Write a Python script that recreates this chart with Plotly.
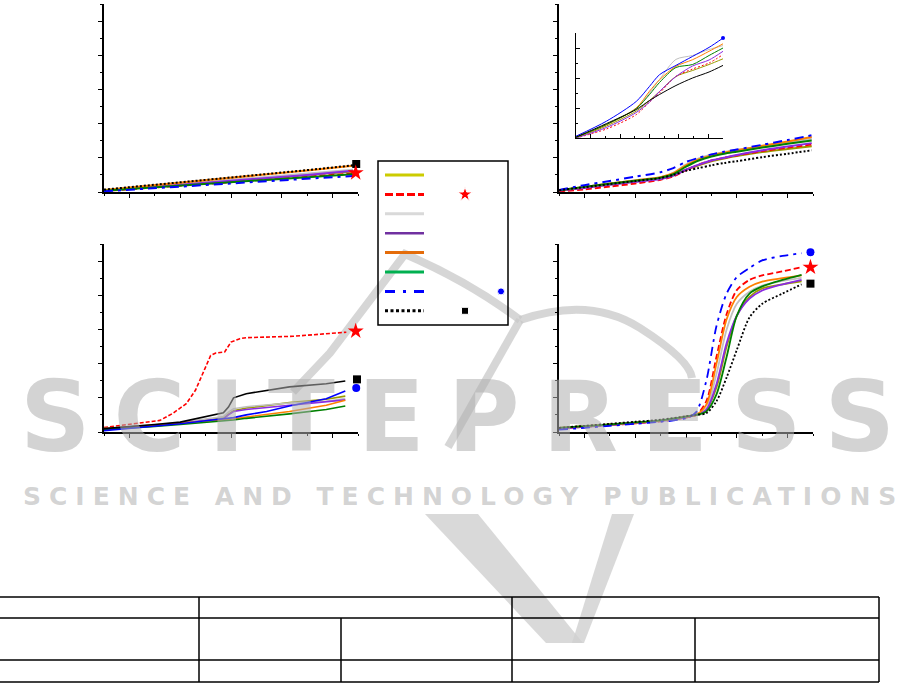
import plotly.graph_objects as go

# ---------------- data (axis units are arbitrary, no labels) -------------
# Panel 1 (top-left): nearly linear growth
p1_x = [0, 2, 4, 6, 8, 9.8]
p1_olive = [0.05, 0.16, 0.27, 0.38, 0.49, 0.60]
p1_red = [0.03, 0.13, 0.24, 0.34, 0.44, 0.54]
p1_gray = [0.05, 0.17, 0.29, 0.41, 0.53, 0.65]
p1_purple = [0.04, 0.15, 0.27, 0.39, 0.50, 0.62]
p1_orange = [0.06, 0.20, 0.35, 0.49, 0.63, 0.77]
p1_green = [0.04, 0.14, 0.24, 0.33, 0.43, 0.52]
p1_blue = [0.02, 0.11, 0.20, 0.29, 0.38, 0.47]
p1_black = [0.07, 0.21, 0.36, 0.50, 0.64, 0.78]
p1_mark_x = [9.93, 9.91, 10.3]
p1_mark_y = [0.82, 0.56, 0.56]

# Panel 2 (top-right) main curves
p2_x = [0, 1, 2, 3, 4, 4.5, 5, 5.5, 6, 6.5, 7, 8, 9, 9.95]
p2_olive = [0.04, 0.13, 0.22, 0.31, 0.40, 0.49, 0.65, 0.78, 0.90, 0.98, 1.05, 1.17, 1.26, 1.34]
p2_red = [0.02, 0.08, 0.16, 0.25, 0.36, 0.46, 0.64, 0.80, 0.92, 1.00, 1.07, 1.20, 1.30, 1.39]
p2_gray = [0.05, 0.15, 0.25, 0.34, 0.43, 0.56, 0.80, 0.98, 1.10, 1.17, 1.23, 1.34, 1.45, 1.56]
p2_purple = [0.04, 0.12, 0.21, 0.30, 0.38, 0.48, 0.65, 0.80, 0.92, 1.00, 1.08, 1.22, 1.33, 1.43]
p2_orange = [0.05, 0.15, 0.25, 0.34, 0.43, 0.55, 0.78, 0.95, 1.07, 1.15, 1.22, 1.35, 1.48, 1.61]
p2_green = [0.05, 0.15, 0.24, 0.33, 0.42, 0.52, 0.74, 0.92, 1.04, 1.12, 1.18, 1.30, 1.41, 1.51]
p2_blue = [0.06, 0.20, 0.32, 0.45, 0.58, 0.70, 0.88, 1.00, 1.10, 1.18, 1.24, 1.38, 1.52, 1.66]
p2_black = [0.05, 0.14, 0.23, 0.32, 0.41, 0.50, 0.62, 0.70, 0.78, 0.85, 0.90, 1.02, 1.12, 1.22]
p2_mark_x = [10.13, 10.09, 10.09]
p2_mark_y = [1.24, 1.46, 1.75]

# Panel 2 inset
in_x = [0, 2.07, 4.1, 5.0, 5.68, 6.8, 7.93, 9.05, 10]
in_olive = [0.00, 0.40, 0.90, 1.25, 1.55, 2.05, 2.25, 2.45, 2.64]
in_red = [0.00, 0.30, 0.78, 1.20, 1.50, 2.05, 2.30, 2.50, 2.78]
in_gray = [0.02, 0.45, 1.00, 1.50, 1.95, 2.62, 2.75, 2.95, 3.08]
in_purple = [0.00, 0.35, 0.85, 1.20, 1.55, 2.05, 2.40, 2.60, 2.89]
in_orange = [0.02, 0.44, 1.00, 1.56, 1.94, 2.39, 2.61, 2.89, 3.14]
in_green = [0.02, 0.45, 0.98, 1.45, 1.85, 2.35, 2.45, 2.75, 3.00]
in_blue = [0.06, 0.56, 1.22, 1.72, 2.11, 2.42, 2.72, 3.02, 3.33]
in_black = [0.03, 0.48, 0.95, 1.25, 1.45, 1.75, 2.00, 2.20, 2.42]
in_mark_x = [10.1, 10.1, 10.0]
in_mark_y = [2.42, 2.78, 3.33]

# Panel 3 (bottom-left)
p3_x = [0, 1, 2, 3, 4, 4.7, 4.9, 5.1, 5.6, 6.4, 7.3, 8.75, 9.5]
p3_olive = [0.09, 0.14, 0.20, 0.27, 0.35, 0.42, 0.52, 0.62, 0.70, 0.78, 0.86, 0.96, 1.05]
p3_gray = [0.10, 0.15, 0.21, 0.28, 0.37, 0.45, 0.58, 0.68, 0.74, 0.79, 0.85, 0.90, 0.98]
p3_purple = [0.08, 0.13, 0.19, 0.26, 0.33, 0.38, 0.50, 0.60, 0.66, 0.72, 0.78, 0.88, 0.94]
p3_orange = [0.10, 0.14, 0.19, 0.26, 0.32, 0.36, 0.37, 0.38, 0.44, 0.52, 0.60, 0.78, 0.93]
p3_green = [0.07, 0.11, 0.16, 0.22, 0.28, 0.33, 0.34, 0.35, 0.40, 0.46, 0.53, 0.66, 0.76]
p3_blue = [0.04, 0.10, 0.17, 0.24, 0.33, 0.38, 0.39, 0.42, 0.50, 0.60, 0.76, 0.97, 1.20]
p3_black = [0.10, 0.15, 0.22, 0.29, 0.44, 0.56, 0.73, 1.00, 1.12, 1.22, 1.32, 1.41, 1.49]
p3_red_x = [0, 1.0, 2.2, 2.7, 3.24, 3.6, 4.0, 4.2, 4.4, 4.75, 5.0, 5.35, 5.6, 7.44, 9.54]
p3_red = [0.13, 0.22, 0.34, 0.54, 0.83, 1.22, 1.90, 2.24, 2.31, 2.34, 2.63, 2.73, 2.76, 2.80, 2.92]
p3_mark_x = [9.96, 9.91, 9.93]
p3_mark_y = [1.54, 2.95, 1.29]

# Panel 4 (bottom-right): sigmoid growth
p4_x = [0, 1, 2, 3, 4, 5, 5.4, 5.8, 6.2, 6.6, 7.0, 7.5, 8.0, 8.8, 9.55]
p4_olive = [0.12, 0.17, 0.22, 0.27, 0.33, 0.45, 0.50, 0.65, 1.30, 2.50, 3.40, 3.95, 4.20, 4.32, 4.41]
p4_red = [0.10, 0.15, 0.20, 0.25, 0.31, 0.42, 0.50, 0.90, 2.20, 3.45, 4.15, 4.45, 4.58, 4.70, 4.82]
p4_gray = [0.12, 0.17, 0.22, 0.27, 0.33, 0.45, 0.50, 0.70, 1.70, 3.00, 3.75, 4.10, 4.28, 4.42, 4.51]
p4_purple = [0.10, 0.15, 0.20, 0.26, 0.32, 0.43, 0.50, 0.65, 1.40, 2.60, 3.40, 3.90, 4.14, 4.32, 4.45]
p4_orange = [0.12, 0.17, 0.22, 0.27, 0.33, 0.45, 0.50, 0.80, 2.00, 3.30, 3.95, 4.25, 4.40, 4.50, 4.58]
p4_green = [0.12, 0.17, 0.22, 0.28, 0.34, 0.45, 0.50, 0.60, 1.10, 2.20, 3.40, 4.05, 4.26, 4.45, 4.60]
p4_blue = [0.07, 0.12, 0.18, 0.24, 0.30, 0.40, 0.58, 1.50, 3.10, 4.05, 4.53, 4.80, 5.02, 5.15, 5.23]
p4_black = [0.12, 0.18, 0.24, 0.30, 0.36, 0.46, 0.50, 0.55, 0.90, 1.60, 2.40, 3.35, 3.75, 4.05, 4.32]
p4_mark_x = [9.9, 9.9, 9.9]
p4_mark_y = [4.34, 4.82, 5.26]

series_order = ["olive", "red", "gray", "purple", "orange", "green", "blue", "black"]

# ---------------- styles ----------------
chart_color = {"olive": "#9a9a00", "red": "#ff0000", "gray": "#c0c0c0", "purple": "#8a2be2",
               "orange": "#ff7f00", "green": "#008000", "blue": "#0000ff", "black": "#000000"}
legend_color = {"olive": "#cccc00", "red": "#ff0000", "gray": "#d9d9d9", "purple": "#7030a0",
                "orange": "#e46c0a", "green": "#00b050", "blue": "#0000ff", "black": "#000000"}
dash = {"olive": "solid", "red": "6px,3px", "gray": "solid", "purple": "solid", "orange": "solid",
        "green": "solid", "blue": "9px,5px,3px,5px", "black": "2px,2px"}
legend_dash = {"olive": "solid", "red": "8px,3px", "gray": "solid", "purple": "solid", "orange": "solid",
               "green": "solid", "blue": "10px,8px,3px,8px", "black": "3px,2.5px"}
mark_symbols = ["square", "star", "circle"]
mark_colors = ["#000000", "#ff0000", "#0000ff"]
mark_sizes = [8, 12, 8]

W, H = 907, 683


def px_dom_x(a, b):
    return [a / W, b / W]


def px_dom_y(top, bottom):
    return [1 - bottom / H, 1 - top / H]


fig = go.Figure()


def add_panel(xa, ya, xs_map, ys_map, width, mark_x, mark_y, dash_override=None, shape="linear",
              msizes=None):
    for name in series_order:
        d = dash[name]
        if dash_override and name in dash_override:
            d = dash_override[name]
        fig.add_trace(go.Scatter(x=xs_map[name], y=ys_map[name], mode="lines", xaxis=xa, yaxis=ya,
                                 line=dict(color=chart_color[name], width=width, dash=d, shape=shape,
                                           smoothing=0.8),
                                 showlegend=False, hoverinfo="skip"))
    fig.add_trace(go.Scatter(x=mark_x, y=mark_y, mode="markers", xaxis=xa, yaxis=ya, cliponaxis=False,
                             marker=dict(symbol=mark_symbols, color=mark_colors, opacity=1,
                                         size=msizes or mark_sizes, line=dict(width=0)),
                             showlegend=False, hoverinfo="skip"))


p1_y = dict(olive=p1_olive, red=p1_red, gray=p1_gray, purple=p1_purple, orange=p1_orange,
            green=p1_green, blue=p1_blue, black=p1_black)
add_panel("x", "y", {k: p1_x for k in series_order}, p1_y, 2, p1_mark_x, p1_mark_y)

p2_y = dict(olive=p2_olive, red=p2_red, gray=p2_gray, purple=p2_purple, orange=p2_orange,
            green=p2_green, blue=p2_blue, black=p2_black)
add_panel("x2", "y2", {k: p2_x for k in series_order}, p2_y, 2, p2_mark_x, p2_mark_y, shape="spline")

p3_y = dict(olive=p3_olive, red=p3_red, gray=p3_gray, purple=p3_purple, orange=p3_orange,
            green=p3_green, blue=p3_blue, black=p3_black)
p3_xs = {k: p3_x for k in series_order}
p3_xs["red"] = p3_red_x
add_panel("x3", "y3", p3_xs, p3_y, 1.6, p3_mark_x, p3_mark_y,
          dash_override={"blue": "solid", "black": "solid", "red": "4px,2px"})

p4_y = dict(olive=p4_olive, red=p4_red, gray=p4_gray, purple=p4_purple, orange=p4_orange,
            green=p4_green, blue=p4_blue, black=p4_black)
add_panel("x4", "y4", {k: p4_x for k in series_order}, p4_y, 1.8, p4_mark_x, p4_mark_y, shape="spline")

in_y = dict(olive=in_olive, red=in_red, gray=in_gray, purple=in_purple, orange=in_orange,
            green=in_green, blue=in_blue, black=in_black)
add_panel("x5", "y5", {k: in_x for k in series_order}, in_y, 1, in_mark_x, in_mark_y,
          dash_override={"blue": "solid", "black": "solid", "red": "2px,2px"}, shape="spline",
          msizes=[4, 6, 4])

# ---------------- legend drawn in its own (hidden) axes, 1 unit = 1 px ----------------
row_gap = 19.4
row0 = 14
for i, name in enumerate(series_order):
    fig.add_trace(go.Scatter(x=[7, 46], y=[row0 + i * row_gap] * 2, mode="lines", xaxis="x6", yaxis="y6",
                             line=dict(color=legend_color[name], width=3 if name != "purple" else 2.5,
                                       dash=legend_dash[name]),
                             showlegend=False, hoverinfo="skip"))
leg_mark_rows = [7, 1, 6]
leg_mark_x = [87, 87, 123]
fig.add_trace(go.Scatter(x=leg_mark_x, y=[row0 + r * row_gap for r in leg_mark_rows], mode="markers",
                         xaxis="x6", yaxis="y6",
                         marker=dict(symbol=mark_symbols, color=mark_colors, size=[7, 11, 7], opacity=1),
                         showlegend=False, hoverinfo="skip"))

# ---------------- axes ----------------
main_tick = dict(showline=True, linecolor="black", linewidth=1.5, ticks="outside", ticklen=4,
                 tickwidth=1, tickcolor="black", showticklabels=False, showgrid=False, zeroline=False)

panels = {
    "": (px_dom_x(104, 358), px_dom_y(4, 192)),
    "2": (px_dom_x(559, 813), px_dom_y(4, 192)),
    "3": (px_dom_x(104, 358), px_dom_y(244, 432)),
    "4": (px_dom_x(559, 813), px_dom_y(244, 432)),
}
layout_axes = {}
for s, (dx, dy) in panels.items():
    anchor = "y" + s if s else "y"
    xanchor = "x" + s if s else "x"
    layout_axes["xaxis" + s] = dict(domain=dx, anchor=anchor, range=[0, 10], tick0=1, dtick=2,
                                    minor=dict(tick0=0, dtick=1, ticks="outside", ticklen=2,
                                               tickcolor="black", tickwidth=1), **main_tick)
    layout_axes["yaxis" + s] = dict(domain=dy, anchor=xanchor, range=[0, 5.5], tick0=0, dtick=1,
                                    minor=dict(tick0=0, dtick=0.5, ticks="outside", ticklen=2,
                                               tickcolor="black", tickwidth=1), **main_tick)

inset_tick = dict(showline=True, linecolor="black", linewidth=1, ticks="inside", ticklen=4, tickwidth=1,
                  tickcolor="black", showticklabels=False, showgrid=False, zeroline=False)
layout_axes["xaxis5"] = dict(domain=px_dom_x(576, 723), anchor="y5", range=[0, 10], tick0=1, dtick=2,
                             minor=dict(tick0=0, dtick=1, ticks="inside", ticklen=2, tickcolor="black"),
                             **inset_tick)
layout_axes["yaxis5"] = dict(domain=px_dom_y(33, 138), anchor="x5", range=[0, 3.5], tick0=0, dtick=1,
                             minor=dict(tick0=0, dtick=0.5, ticks="inside", ticklen=2, tickcolor="black"),
                             **inset_tick)
layout_axes["xaxis6"] = dict(domain=px_dom_x(378, 508), anchor="y6", range=[0, 130], visible=False)
layout_axes["yaxis6"] = dict(domain=px_dom_y(161, 325), anchor="x6", range=[164, 0], visible=False)

# ---------------- layout shapes: legend frame and the table grid ----------------
shapes = [dict(type="rect", xref="paper", yref="paper", x0=378 / W, x1=508 / W,
               y0=1 - 325 / H, y1=1 - 161 / H, line=dict(color="black", width=1.5))]
table_rows = [597, 618, 660, 682]
for yy in table_rows:
    shapes.append(dict(type="line", xref="paper", yref="paper", x0=0, x1=879 / W, y0=1 - yy / H, y1=1 - yy / H,
                       line=dict(color="black", width=1.5)))
table_cols = [(199, 597), (341, 618), (512, 597), (695, 618), (879, 597)]
for xx, ytop in table_cols:
    shapes.append(dict(type="line", xref="paper", yref="paper", x0=xx / W, x1=xx / W,
                       y0=1 - 682 / H, y1=1 - ytop / H, line=dict(color="black", width=1.5)))


# ---------------- watermark (publisher logo strokes + text) ----------------
def px_path(cmds, close=False):
    out = []
    for c in cmds:
        if isinstance(c, str):
            out.append(c)
        else:
            out.append("%.5f,%.5f" % (c[0] / W, 1 - c[1] / H))
    if close:
        out.append("Z")
    return " ".join(out)


wm_line = "rgba(200,200,200,0.75)"
logo_paths = [
    ["M", (293, 392), "L", (330, 353), "L", (405, 254), "Q", (470, 282), (520, 320)],
    ["M", (520, 320), "Q", (590, 296), (640, 328), "T", (692, 378)],
    ["M", (520, 320), "L", (448, 447)],
]
for p in logo_paths:
    shapes.append(dict(type="path", xref="paper", yref="paper", path=px_path(p), layer="below",
                       line=dict(color=wm_line, width=8)))
logo_fills = [
    ["M", (425, 514), "L", (478, 514), "L", (583, 643), "L", (546, 643)],
    ["M", (612, 514), "L", (634, 514), "L", (584, 643), "L", (572, 643)],
]
for p in logo_fills:
    shapes.append(dict(type="path", xref="paper", yref="paper", path=px_path(p, close=True), layer="below",
                       fillcolor="rgba(208,208,208,0.8)", line=dict(width=0)))

wm = "rgba(175,175,175,0.55)"
annotations = [
    dict(text='<span style="letter-spacing:23px">SCITEPRES</span>S', x=457 / W, y=1 - 417 / H,
         xref="paper", yref="paper", showarrow=False, xanchor="center", yanchor="middle",
         font=dict(family="DejaVu Sans", size=98, color=wm, weight="bold")),
    dict(text='<span style="letter-spacing:8px">SCIENCE AND TECHNOLOGY PUBLICATION</span>S',
         x=459 / W, y=1 - 496 / H, xref="paper", yref="paper", showarrow=False,
         xanchor="center", yanchor="middle",
         font=dict(family="DejaVu Sans", size=25, color=wm, weight="bold")),
]

fig.update_layout(width=W, height=H, margin=dict(l=0, r=0, t=0, b=0), paper_bgcolor="white",
                  plot_bgcolor="rgba(0,0,0,0)", showlegend=False, shapes=shapes, annotations=annotations,
                  **layout_axes)

fig.write_html("out.html", config={"displayModeBar": False},
               post_script="document.body.style.margin='0px';")
